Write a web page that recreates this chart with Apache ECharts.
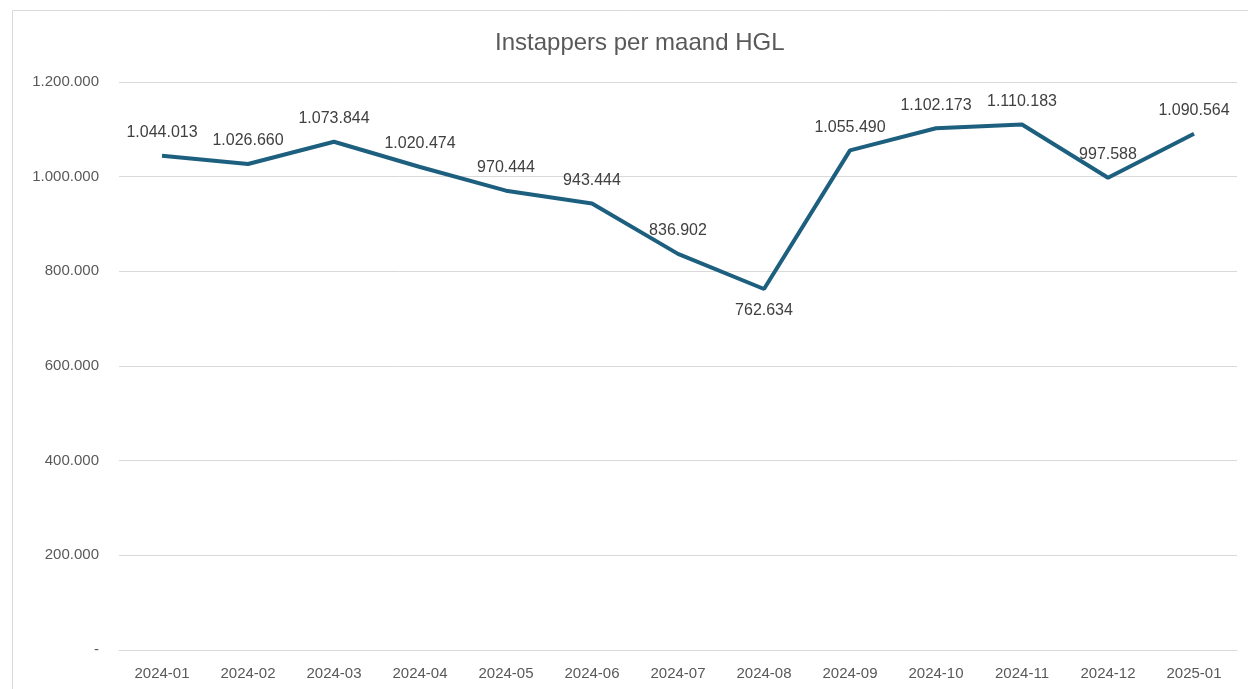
<!DOCTYPE html>
<html>
<head>
<meta charset="utf-8">
<script src="https://cdn.jsdelivr.net/npm/echarts@6/dist/echarts.min.js"></script>
<style>
  html, body { margin: 0; padding: 0; background: #fff; }
  #chart { width: 1248px; height: 689px; }
</style>
</head>
<body>
<div id="chart"></div>
<script>
  // maanden en aantallen instappers
  var months = ['2024-01', '2024-02', '2024-03', '2024-04', '2024-05', '2024-06', '2024-07',
                '2024-08', '2024-09', '2024-10', '2024-11', '2024-12', '2025-01'];
  var instappers = [1044013, 1026660, 1073844, 1020474, 970444, 943444, 836902,
                    762634, 1055490, 1102173, 1110183, 997588, 1090564];

  function fmt(n) {
    if (n === 0) return '-';
    return String(n).replace(/\B(?=(\d{3})+(?!\d))/g, '.');
  }

  var chartDom = document.getElementById('chart');
  var myChart = echarts.init(chartDom);
  var font = 'Liberation Sans';

  var option = {
    animation: false,
    textStyle: { fontFamily: font },
    title: {
      text: 'Instappers per maand HGL',
      left: 490,
      top: 26,
      textStyle: { fontSize: 24, fontWeight: 'normal', color: '#595959', fontFamily: font }
    },
    graphic: [{
      type: 'rect',
      shape: { x: 12.5, y: 10.5, width: 1260, height: 720 },
      style: { fill: 'none', stroke: '#d9d9d9', lineWidth: 1 }
    }],
    grid: { left: 119, right: 11, top: 82, bottom: 39 },
    xAxis: {
      type: 'category',
      data: months,
      axisLine: { lineStyle: { color: '#d9d9d9' } },
      axisTick: { show: false },
      axisLabel: { color: '#595959', fontSize: 15, margin: 16 }
    },
    yAxis: {
      type: 'value',
      min: 0,
      max: 1200000,
      interval: 200000,
      axisLine: { show: false },
      axisTick: { show: false },
      splitLine: { lineStyle: { color: '#d9d9d9' } },
      axisLabel: { color: '#595959', fontSize: 15, margin: 20, formatter: fmt }
    },
    series: [{
      name: 'Instappers',
      type: 'line',
      data: instappers.map(function (v, i) {
        var item = { value: v };
        if (months[i] === '2024-08') {
          item.label = { position: 'bottom', distance: 13 };
        }
        return item;
      }),
      symbol: 'circle',
      symbolSize: 2,
      showSymbol: true,
      lineStyle: { color: '#1d5f7e', width: 4 },
      itemStyle: { color: 'rgba(0,0,0,0)', borderWidth: 0 },
      label: {
        show: true,
        position: 'top',
        distance: 14,
        color: '#404040',
        fontSize: 16,
        formatter: function (p) { return fmt(p.value); }
      }
    }]
  };

  myChart.setOption(option);
</script>
</body>
</html>
